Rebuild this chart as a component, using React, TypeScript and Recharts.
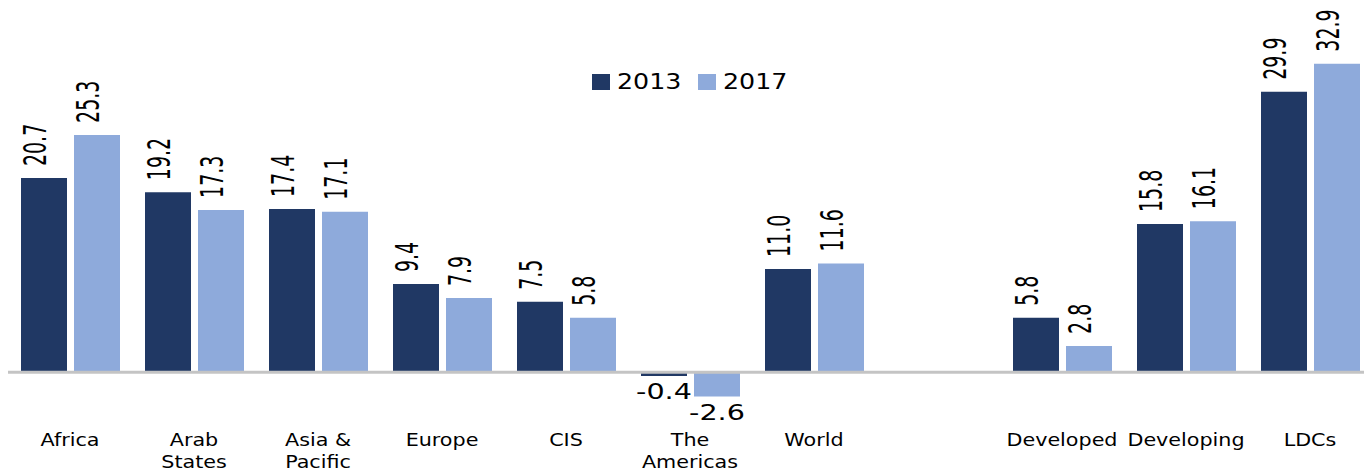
import { BarChart, Bar, XAxis, YAxis, ReferenceLine, Legend, LabelList } from 'recharts'

const categories = ['Africa', 'Arab\nStates', 'Asia &\nPacific', 'Europe', 'CIS', 'The\nAmericas', 'World', '', 'Developed', 'Developing', 'LDCs']
const values2013 = [20.7, 19.2, 17.4, 9.4, 7.5, -0.4, 11.0, null, 5.8, 15.8, 29.9]
const values2017 = [25.3, 17.3, 17.1, 7.9, 5.8, -2.6, 11.6, null, 2.8, 16.1, 32.9]
const seriesNames = ['2013', '2017']

const COLORS = {
  y2013: '#203864',
  y2017: '#8eaadb',
}
const FONT = '"DejaVu Sans", Verdana, sans-serif'

const data = categories.map((name, i) => ({
  name,
  y2013: values2013[i],
  y2017: values2017[i],
}))

function CategoryTick({ x, y, payload }: any) {
  const lines = String(payload.value).split('\n')
  return (
    <g transform={`translate(${x},${y})`}>
      {lines.map((line, i) => (
        <text
          key={i}
          transform={`translate(0,${27 + i * 21.5}) scale(1.15,1)`}
          textAnchor="middle"
          fontSize={18}
          fontFamily={FONT}
          fill="#000"
        >
          {line}
        </text>
      ))}
    </g>
  )
}

function ValueLabel(props: any) {
  const { value } = props
  if (value == null) return null
  const vb = props.viewBox ?? props
  const { x, y, width, height } = vb
  const cx = x + width / 2
  const top = Math.min(y, y + height)
  const bottom = Math.max(y, y + height)
  const text = Number(value).toFixed(1)
  if (value < 0) {
    return (
      <text
        transform={`translate(${cx},${bottom + 23}) scale(1.3,1)`}
        textAnchor="middle"
        fontSize={22}
        fontFamily={FONT}
        fill="#000"
      >
        {text}
      </text>
    )
  }
  return (
    <text
      transform={`translate(${cx + 2},${top - 12}) rotate(-90) scale(0.95,1.6)`}
      textAnchor="start"
      fontSize={20}
      fontFamily={FONT}
      fill="#000"
    >
      {text}
    </text>
  )
}

function LegendContent() {
  const colors = [COLORS.y2013, COLORS.y2017]
  return (
    <div style={{ display: 'flex', justifyContent: 'center', alignItems: 'center', fontFamily: FONT, fontSize: 22, color: '#000' }}>
      {seriesNames.map((name, i) => (
        <div key={name} style={{ display: 'flex', alignItems: 'center', marginRight: i === 0 ? 16 : 0 }}>
          <span style={{ display: 'inline-block', width: 18, height: 16, background: colors[i], marginRight: 7 }} />
          <span style={{ display: 'inline-block', transform: 'scaleX(1.15)', transformOrigin: 'left center', marginRight: 9, lineHeight: '16px' }}>
            {name}
          </span>
        </div>
      ))}
    </div>
  )
}

export default function App() {
  return (
    <BarChart
      width={1364}
      height={465}
      data={data}
      margin={{ top: 36, right: 0, bottom: 0, left: 0 }}
      barGap={7}
      barSize={46}
    >
      <XAxis
        dataKey="name"
        axisLine={false}
        tickLine={false}
        tickSize={0}
        tickMargin={0}
        height={54}
        interval={0}
        tick={<CategoryTick />}
      />
      <YAxis hide domain={[-5, 35]} />
      <Legend
        layout="horizontal"
        verticalAlign="middle"
        align="center"
        wrapperStyle={{ top: 66, left: 0, width: 1364 }}
        content={<LegendContent />}
      />
      <Bar dataKey="y2013" name="2013" fill={COLORS.y2013} isAnimationActive={false}>
        <LabelList dataKey="y2013" content={<ValueLabel />} />
      </Bar>
      <Bar dataKey="y2017" name="2017" fill={COLORS.y2017} isAnimationActive={false}>
        <LabelList dataKey="y2017" content={<ValueLabel />} />
      </Bar>
      <ReferenceLine y={0} stroke="#c4c4c4" strokeWidth={3} />
    </BarChart>
  )
}
